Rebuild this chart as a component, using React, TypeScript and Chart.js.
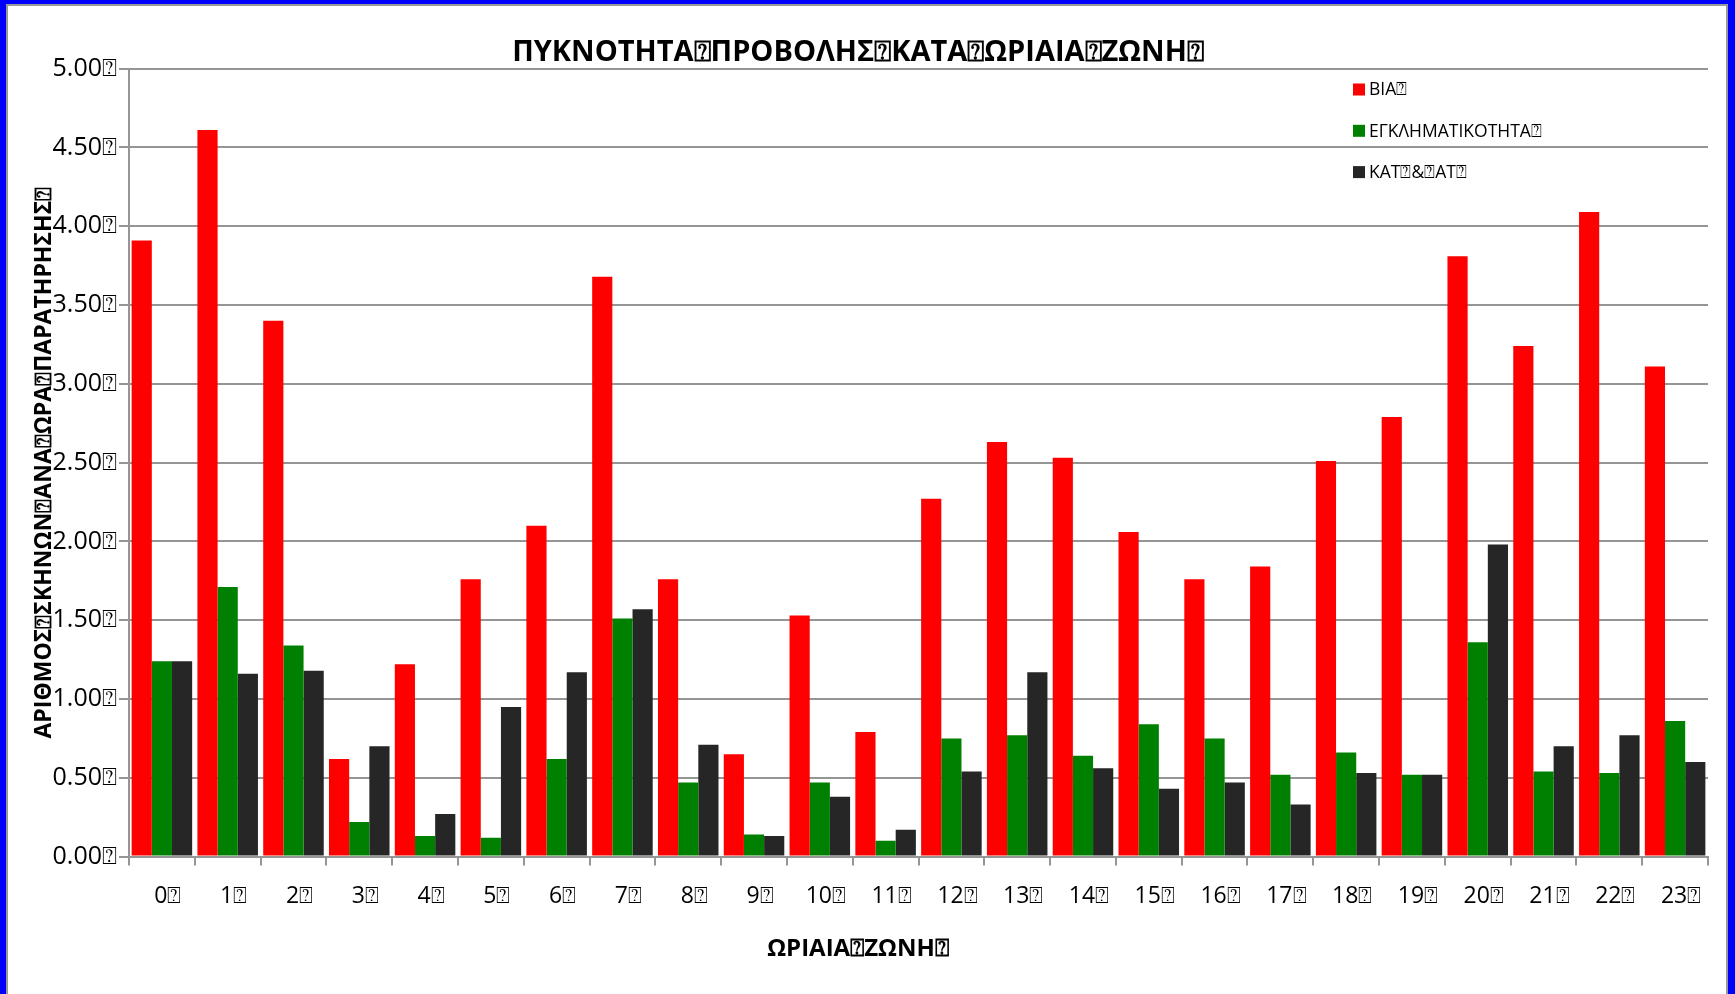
import React, { useEffect, useRef } from 'react';
import { Chart, registerables } from 'chart.js';

Chart.register(...registerables);

// Placeholder glyph that appears in the source text (drawn as a boxed question mark)
const T = '\u2370';

const HOURS = ['0', '1', '2', '3', '4', '5', '6', '7', '8', '9', '10', '11', '12', '13', '14', '15', '16', '17', '18', '19', '20', '21', '22', '23'];
const CATEGORY_LABELS = HOURS.map((h) => h + T);

const SERIES_NAMES = ['ΒΙΑ' + T, 'ΕΓΚΛΗΜΑΤΙΚΟΤΗΤΑ' + T, 'ΚΑΤ' + T + '&' + T + 'ΑΤ' + T];

const VIOLENCE = [3.91, 4.61, 3.40, 0.62, 1.22, 1.76, 2.10, 3.68, 1.76, 0.65, 1.53, 0.79, 2.27, 2.63, 2.53, 2.06, 1.76, 1.84, 2.51, 2.79, 3.81, 3.24, 4.09, 3.11];
const CRIME = [1.24, 1.71, 1.34, 0.22, 0.13, 0.12, 0.62, 1.51, 0.47, 0.14, 0.47, 0.10, 0.75, 0.77, 0.64, 0.84, 0.75, 0.52, 0.66, 0.52, 1.36, 0.54, 0.53, 0.86];
const KAT_AT = [1.24, 1.16, 1.18, 0.70, 0.27, 0.95, 1.17, 1.57, 0.71, 0.13, 0.38, 0.17, 0.54, 1.17, 0.56, 0.43, 0.47, 0.33, 0.53, 0.52, 1.98, 0.70, 0.77, 0.60];

const Y_MIN = 0;
const Y_MAX = 5;
const Y_STEP = 0.5;

const TITLE = 'ΠΥΚΝΟΤΗΤΑ' + T + 'ΠΡΟΒΟΛΗΣ' + T + 'ΚΑΤΑ' + T + 'ΩΡΙΑΙΑ' + T + 'ΖΩΝΗ' + T;
const X_TITLE = 'ΩΡΙΑΙΑ' + T + 'ΖΩΝΗ' + T;
const Y_TITLE = 'ΑΡΙΘΜΟΣ' + T + 'ΣΚΗΝΩΝ' + T + 'ΑΝΑ' + T + 'ΩΡΑ' + T + 'ΠΑΡΑΤΗΡΗΣΗΣ' + T;

const COLORS = ['#FF0000', '#008000', '#262626'];
const FONT = '"Open Sans", "Noto Sans", sans-serif';
const GRID = '#959595';

const W = 1735;
const H = 994;

const insideLegend = {
  id: 'insideLegend',
  afterDatasetsDraw(chart: any) {
    const { ctx } = chart;
    ctx.save();
    ctx.font = `17.5px ${FONT}`;
    ctx.textBaseline = 'middle';
    ctx.textAlign = 'left';
    const x0 = 1353;
    const y0 = 89.5;
    const gap = 41.3;
    chart.data.datasets.forEach((ds: any, i: number) => {
      const y = y0 + i * gap;
      ctx.fillStyle = ds.backgroundColor;
      ctx.fillRect(x0, y - 6, 12, 12);
      ctx.fillStyle = '#000';
      ctx.fillText(ds.label, x0 + 16, y + 1);
    });
    ctx.restore();
  },
};

export default function App() {
  const ref = useRef<HTMLCanvasElement | null>(null);

  useEffect(() => {
    if (!ref.current) return;
    const series = [VIOLENCE, CRIME, KAT_AT];
    const chart = new Chart(ref.current, {
      type: 'bar',
      data: {
        labels: CATEGORY_LABELS,
        datasets: series.map((d, i) => ({
          label: SERIES_NAMES[i],
          data: d,
          backgroundColor: COLORS[i],
          borderWidth: 0,
          categoryPercentage: 0.92,
          barPercentage: 1.0,
        })),
      },
      options: {
        responsive: false,
        animation: false,
        devicePixelRatio: 1,
        layout: { padding: { left: 8, right: 27, top: 0, bottom: 0 } },
        plugins: {
          legend: { display: false },
          tooltip: { enabled: false },
          title: {
            display: true,
            text: TITLE,
            color: '#000',
            font: { family: FONT, size: 29, weight: 'bold', lineHeight: 1.0 },
            padding: { top: 38.5, bottom: 1.1 },
          },
          subtitle: {
            display: true,
            position: 'bottom',
            text: X_TITLE,
            color: '#000',
            font: { family: FONT, size: 24, weight: 'bold' },
            padding: { top: 10, bottom: 30.6 },
          },
        },
        scales: {
          x: {
            type: 'category',
            offset: true,
            grid: {
              display: true,
              drawOnChartArea: false,
              drawTicks: true,
              tickLength: 9,
              offset: true,
              color: GRID,
              lineWidth: 2,
            },
            border: { display: true, color: GRID, width: 2 },
            ticks: {
              color: '#000',
              font: { family: FONT, size: 23 },
              padding: 17,
              labelOffset: 6,
              maxRotation: 0,
              autoSkip: false,
            },
            afterFit: (s: any) => {
              s.height = 68;
            },
          },
          y: {
            min: Y_MIN,
            max: Y_MAX,
            ticks: {
              stepSize: Y_STEP,
              color: '#000',
              font: { family: FONT, size: 25 },
              padding: 2,
              callback: (v: any) => Number(v).toFixed(2) + T,
            },
            grid: { color: GRID, lineWidth: 2, tickLength: 10, drawTicks: true },
            border: { display: true, color: GRID, width: 2 },
            title: {
              display: true,
              text: Y_TITLE,
              color: '#000',
              font: { family: FONT, size: 23, weight: 'bold' },
              padding: { top: 23, bottom: 0 },
            },
            afterFit: (s: any) => {
              s.width = 121;
            },
          },
        },
      } as any,
      plugins: [insideLegend],
    });
    return () => chart.destroy();
  }, []);

  return (
    <div style={{ position: 'absolute', left: 0, top: 0, width: W, height: H, background: '#fff' }}>
      <canvas
        ref={ref}
        width={W}
        height={H}
        style={{ position: 'absolute', left: 0, top: 0, width: W, height: H }}
      />
      <div
        style={{
          position: 'absolute',
          left: 0,
          top: 0,
          width: W,
          height: H,
          boxSizing: 'border-box',
          borderTop: '4px solid #0000FF',
          borderLeft: '6px solid #0000FF',
          borderRight: '7px solid #0000FF',
          pointerEvents: 'none',
        }}
      >
        <div
          style={{
            width: '100%',
            height: '100%',
            boxSizing: 'border-box',
            borderTop: '2px solid #999',
            borderLeft: '2px solid #999',
            borderRight: '2px solid #999',
          }}
        />
      </div>
    </div>
  );
}
